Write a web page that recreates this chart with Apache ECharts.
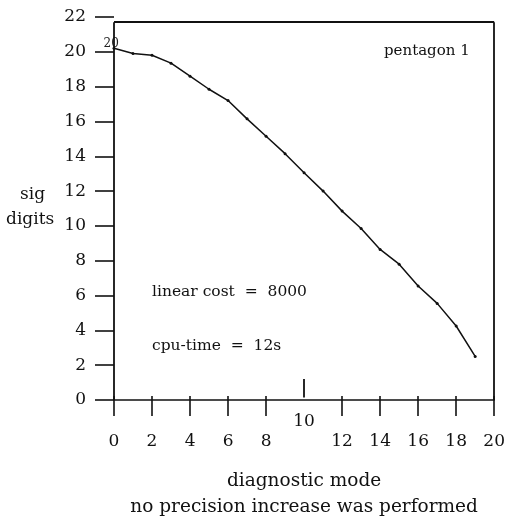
<!DOCTYPE html>
<html>
<head>
<meta charset="utf-8">
<script src="https://cdn.jsdelivr.net/npm/echarts@6/dist/echarts.min.js"></script>
<style>
  html, body { margin: 0; padding: 0; background: #fff; }
  #chart { width: 508px; height: 525px; }
</style>
</head>
<body>
<div id="chart"></div>
<script>
// values
const modes = [0, 1, 2, 3, 4, 5, 6, 7, 8, 9, 10, 11, 12, 13, 14, 15, 16, 17, 18, 19]
const sigDigits = [20.2, 19.9, 19.8, 19.35, 18.6, 17.85, 17.2, 16.15, 15.15, 14.15,
  13.05, 12.0, 10.85, 9.85, 8.65, 7.8, 6.55, 5.55, 4.25, 2.5]
const xTicks = [0, 2, 4, 6, 8, 12, 14, 16, 18, 20]
const xRaisedTick = [10]
const yTicks = [0, 2, 4, 6, 8, 10, 12, 14, 16, 18, 20, 22]
const frameTop = 21.7

const font = 'DejaVu Serif'
const chart = echarts.init(document.getElementById('chart'))

const frame = [
  [{ coord: [0, 0] }, { coord: [0, frameTop] }],
  [{ coord: [0, frameTop] }, { coord: [20, frameTop] }],
  [{ coord: [20, 0] }, { coord: [20, frameTop] }],
  [{ coord: [10, 0.15] }, { coord: [10, 1.2] }],
]

chart.setOption({
  animation: false,
  grid: { left: 114, right: 13, top: 17, bottom: 123 },
  xAxis: [
    {
      type: 'value', min: 0, max: 20, interval: 2,
      axisLine: { show: true, lineStyle: { color: '#111', width: 1.6 } },
      axisTick: { customValues: xTicks, length: 16, lineStyle: { color: '#111', width: 1.6 } },
      axisLabel: { customValues: xTicks, margin: 33, color: '#111', fontFamily: font, fontSize: 17 },
      splitLine: { show: false },
      name: 'diagnostic mode\nno precision increase was performed',
      nameLocation: 'middle', nameGap: 68,
      nameTextStyle: { color: '#111', fontFamily: font, fontSize: 18.5, lineHeight: 26 },
    },
    {
      type: 'value', min: 0, max: 20, position: 'bottom',
      axisLine: { show: false },
      axisTick: { customValues: xTicks, inside: true, length: 4, lineStyle: { color: '#111', width: 1.6 } },
      axisLabel: { customValues: xRaisedTick, margin: 13, color: '#111', fontFamily: font, fontSize: 17 },
      splitLine: { show: false },
    },
  ],
  yAxis: {
    type: 'value', min: 0, max: 22, interval: 2,
    axisLine: { show: false },
    axisTick: { show: true, customValues: yTicks, length: 19, lineStyle: { color: '#111', width: 1.6 } },
    axisLabel: { customValues: yTicks, margin: 28, color: '#111', fontFamily: font, fontSize: 17 },
    splitLine: { show: false },
  },
  graphic: [
    { type: 'text', left: 20, top: 186, style: { text: 'sig', font: '17px ' + font, fill: '#111' } },
    { type: 'text', left: 6, top: 211, style: { text: 'digits', font: '17px ' + font, fill: '#111' } },
    { type: 'text', left: 384, top: 44, style: { text: 'pentagon 1', font: '15px ' + font, fill: '#111' } },
    { type: 'text', left: 152, top: 284, style: { text: 'linear cost  =  8000', font: '15.5px ' + font, fill: '#111' } },
    { type: 'text', left: 152, top: 338, style: { text: 'cpu-time  =  12s', font: '15.5px ' + font, fill: '#111' } },
  ],
  series: [
    {
      type: 'line',
      data: modes.map((m, i) => [m, sigDigits[i]]),
      symbol: 'circle', symbolSize: 3,
      lineStyle: { color: '#111', width: 1.5 },
      itemStyle: { color: '#111' },
      label: {
        show: true, color: '#222', fontFamily: font, fontSize: 12,
        position: [-9, -9],
        formatter: p => (p.dataIndex === 0 ? '20' : ''),
      },
      markLine: {
        silent: true, symbol: 'none', label: { show: false },
        lineStyle: { color: '#111', width: 1.8, type: 'solid' },
        data: frame,
      },
    },
  ],
})
</script>
</body>
</html>
